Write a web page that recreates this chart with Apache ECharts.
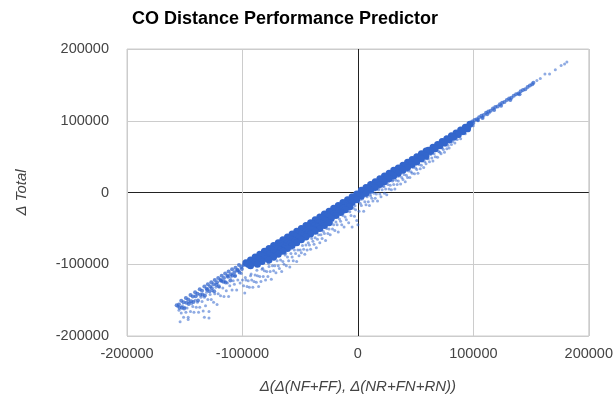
<!DOCTYPE html>
<html>
<head>
<meta charset="utf-8">
<script src="https://cdn.jsdelivr.net/npm/echarts@6/dist/echarts.min.js"></script>
<style>
html,body{margin:0;padding:0;background:#fff}
#chart{width:616px;height:407px}
</style>
</head>
<body>
<div id="chart"></div>
<script>
var titleText = 'CO Distance Performance Predictor';
var xName = 'Δ(Δ(NF+FF), Δ(NR+FN+RN))';
var yName = 'Δ Total';
var axisMin = -200000, axisMax = 200000, axisStep = 100000;

// solid core of the band, x from about -97000 to 97000
var bandPoints = [
    [97000,95000],[93000,91000],[89000,87000],[85000,83000],[81000,79000],[77000,75000],[73000,71000],[69000,67000],
    [65000,63000],[61000,59000],
    [95000,89000],[91000,85000],[87000,81000],[83000,77000],[79000,73000],[75000,69000],[71000,65000],[67000,61000],
    [63000,57000],
    [59000,58000],[55000,54000],[51000,50000],[47000,46000],[43000,42000],[39000,38000],[35000,34000],[31000,31000],
    [27000,27000],[23000,23000],[19000,19000],[15000,15000],[11000,11000],[7000,7000],[3000,3000],
    [57000,53000],[53000,49000],[49000,45000],[45000,41000],[41000,37000],[37000,33000],[33000,29000],[29000,25000],
    [25000,21000],[21000,17000],[17000,13000],[13000,9000],[9000,5000],[5000,1000],[1000,-3000],
    [59000,51000],[55000,47000],[51000,43000],[47000,39000],[43000,35000],[39000,31000],[35000,27000],[31000,23000],
    [27000,19000],[23000,15000],[19000,11000],[15000,7000],[11000,3000],[7000,-1000],[3000,-5000],
    [-1000,-2000],[-5000,-6000],[-9000,-10000],[-13000,-14000],[-17000,-18000],[-21000,-22000],[-25000,-26000],
    [-29000,-30000],[-33000,-34000],[-37000,-38000],[-41000,-42000],[-45000,-46000],[-49000,-50000],[-53000,-54000],
    [-57000,-58000],[-61000,-62000],[-65000,-66000],[-69000,-70000],[-73000,-74000],[-77000,-78000],[-81000,-82000],
    [-85000,-86000],[-89000,-90000],[-93000,-94000],[-97000,-98000],
    [-3000,-8000],[-7000,-12000],[-11000,-16000],[-15000,-20000],[-19000,-24000],[-23000,-28000],[-27000,-32000],
    [-31000,-36000],[-35000,-40000],[-39000,-44000],[-43000,-48000],[-47000,-52000],[-51000,-56000],[-55000,-60000],
    [-59000,-64000],[-63000,-68000],[-67000,-72000],[-71000,-76000],[-75000,-80000],[-79000,-84000],[-83000,-88000],
    [-87000,-92000],[-91000,-96000],[-95000,-100000],
    [-1000,-10000],[-5000,-14000],[-9000,-18000],[-13000,-22000],[-17000,-26000],[-21000,-30000],[-25000,-34000],
    [-29000,-38000],[-33000,-42000],[-37000,-46000],[-41000,-50000],[-45000,-54000],[-49000,-58000],[-53000,-62000],
    [-57000,-66000],[-61000,-70000],[-65000,-74000],[-69000,-78000],[-73000,-82000],[-77000,-86000],[-81000,-90000],
    [-85000,-94000],[-89000,-98000],[-93000,-102000],
    [-7000,-20000],[-11000,-24000],[-15000,-28000],[-19000,-32000],[-23000,-36000],[-27000,-40000],[-31000,-44000],
    [-35000,-48000],[-39000,-52000],[-43000,-56000],[-47000,-60000],[-51000,-64000],[-55000,-68000],[-59000,-72000],
    [-63000,-76000],[-67000,-80000],[-71000,-84000],[-75000,-88000],[-79000,-92000],[-83000,-96000],[-87000,-100000],
    [-25000,-42000],[-29000,-46000],[-33000,-50000],[-37000,-54000],[-41000,-58000],[-45000,-62000],[-49000,-66000],
    [-53000,-70000],[-57000,-74000],[-61000,-78000],[-65000,-82000],[-69000,-86000],[-73000,-90000],[-77000,-94000]
];

// thinner parts of the band: the upper tail and the lower-left end
var edgePoints = [
    [99000,99000],[101000,101000],[103000,102000],[105000,105000],[107000,107000],[109000,108000],[111000,111000],
    [113000,113000],[115000,114000],[117000,117000],[119000,119000],[121000,120000],[123000,123000],[125000,125000],
    [127000,126000],[129000,129000],[131000,131000],[133000,132000],[135000,135000],[137000,137000],[139000,138000],
    [141000,141000],[143000,143000],[145000,144000],[147000,147000],[149000,149000],[151000,151000],[152000,153000],
    [100000,97000],[104000,101000],[108000,104000],[112000,109000],[118000,115000],[124000,121000],[132000,129000],
    [140000,137000],
    [-99000,-101000],[-101000,-104000],[-103000,-101000],[-104000,-108000],[-106000,-105000],[-107000,-111000],
    [-109000,-107000],[-110000,-114000],[-112000,-110000],[-113000,-116000],[-115000,-113000],[-116000,-119000],
    [-118000,-116000],[-119000,-122000],[-121000,-119000],[-122000,-125000],[-124000,-122000],[-125000,-128000],
    [-127000,-125000],[-128000,-131000],[-130000,-128000],[-131000,-134000],[-133000,-131000],[-135000,-137000],
    [-137000,-135000],[-139000,-141000],[-141000,-139000],[-143000,-145000],[-145000,-143000],[-147000,-149000],
    [-149000,-147000],[-151000,-153000],[-153000,-151000],[-155000,-156000],[-157000,-157000],
    [-100500,-106500],[-102500,-111500],[-104500,-108500],[-106500,-116500],[-108500,-115500],[-110500,-122500],
    [-112500,-117500],[-114500,-125500],[-116500,-124500],[-118500,-122500],[-120500,-130500],[-122500,-128500],
    [-124500,-137500],[-126500,-133500],[-128500,-137500],[-130500,-135500],[-132500,-143500],[-134500,-142500],
    [-136500,-142500],[-138500,-150500],[-140500,-144500],[-142500,-152500],[-144500,-151500],[-146500,-155500],
    [-148500,-153500],[-150500,-161500],[-152500,-160500],[-154500,-160500]
];

// loose points scattered below the band
var spreadPoints = [
    [155000,156000],[158000,159000],[162000,165000],[166000,165000],[171000,171000],[176000,177000],[179000,179000],
    [181000,182000],
    [61000,47000],[62000,43000],[63000,53000],[64000,48000],[65000,44000],[66000,54000],[67000,50000],[68000,59000],
    [69000,49000],[70000,57000],[71000,56000],[72000,54000],[73000,62000],[74000,60000],[75000,56000],[76000,66000],
    [77000,61000],[78000,66000],[79000,62000],[80000,71000],[81000,67000],[82000,71000],[84000,69000],[85000,77000],
    [86000,74000],[88000,78000],[89000,75000],[91000,82000],[93000,82000],[95000,87000],[96000,86000],[100000,93000],
    [104000,100000],[108000,105000],[114000,111000],
    [1000,-26000],[2000,-15000],[3000,-18000],[4000,-9000],[5000,-26000],[6000,-13000],[7000,-17000],[8000,-6000],
    [9000,-13000],[10000,-18000],[11000,-5000],[12000,-8000],[13000,-12000],[14000,-1000],[15000,-8000],[16000,-2000],
    [17000,-12000],[18000,4000],[19000,-2000],[20000,-6000],[21000,4000],[22000,9000],[23000,-1000],[24000,5000],
    [25000,-3000],[26000,11000],[27000,5000],[28000,10000],[29000,4000],[30000,16000],[31000,11000],[32000,5000],
    [33000,17000],[34000,11000],[35000,16000],[36000,23000],[37000,12000],[38000,21000],[39000,18000],[40000,25000],
    [41000,15000],[42000,24000],[43000,21000],[44000,30000],[45000,21000],[46000,29000],[47000,27000],[48000,35000],
    [49000,26000],[50000,34000],[51000,32000],[52000,27000],[53000,39000],[54000,33000],[55000,38000],[56000,44000],
    [57000,35000],[58000,43000],[59000,40000],[60000,47000],
    [2500,-9500],[6500,-4500],[10500,-2500],[14500,3500],[18500,6500],[22500,8500],[26500,15500],[30500,17500],
    [34500,22500],[38500,28500],[42500,30500],[46500,35500],[50500,39500],[54500,44500],[58500,47500],
    [0,-45000],[-1000,-39000],[-2000,-24000],[-3000,-33000],[-4000,-22000],[-5000,-48000],[-6000,-32000],
    [-7000,-27000],[-8000,-42000],[-9000,-26000],[-10000,-38000],[-11000,-34000],[-12000,-48000],[-13000,-32000],
    [-14000,-45000],[-15000,-40000],[-16000,-37000],[-17000,-55000],[-18000,-45000],[-19000,-41000],[-20000,-53000],
    [-21000,-45000],[-22000,-51000],[-23000,-43000],[-24000,-59000],[-25000,-51000],[-26000,-57000],[-27000,-50000],
    [-28000,-67000],[-29000,-57000],[-30000,-54000],[-31000,-64000],[-32000,-59000],[-33000,-70000],[-34000,-59000],
    [-35000,-65000],[-36000,-77000],[-37000,-63000],[-38000,-72000],[-39000,-68000],[-40000,-64000],[-41000,-79000],
    [-42000,-73000],[-43000,-70000],[-44000,-80000],[-45000,-73000],[-46000,-86000],[-47000,-79000],[-48000,-74000],
    [-49000,-84000],[-50000,-80000],
    [-2500,-18500],[-7500,-22500],[-12500,-28500],[-17500,-33500],[-22500,-40500],[-27500,-44500],[-32500,-50500],
    [-37500,-55500],[-42500,-61500],[-47500,-66500],
    [-51000,-88000],[-52000,-80000],[-53000,-96000],[-54000,-85000],[-55000,-80000],[-56000,-95000],[-57000,-90000],
    [-58000,-85000],[-59000,-104000],[-60000,-95000],[-61000,-90000],[-62000,-102000],[-63000,-87000],
    [-64000,-100000],[-65000,-96000],[-66000,-110000],[-67000,-94000],[-68000,-106000],[-69000,-102000],
    [-70000,-95000],[-71000,-112000],[-72000,-102000],[-73000,-109000],[-74000,-102000],[-75000,-121000],
    [-76000,-110000],[-77000,-103000],[-78000,-117000],[-79000,-110000],[-80000,-122000],[-81000,-109000],
    [-82000,-117000],[-83000,-107000],[-84000,-124000],[-85000,-117000],[-86000,-131000],[-87000,-116000],
    [-88000,-125000],[-89000,-115000],[-90000,-124000],[-91000,-132000],[-92000,-122000],[-93000,-116000],
    [-94000,-132000],[-95000,-123000],[-96000,-131000],[-97000,-122000],[-98000,-140000],[-99000,-130000],
    [-100000,-122000],
    [-52500,-72500],[-57500,-78500],[-62500,-84500],[-67500,-86500],[-72500,-93500],[-77500,-98500],
    [-82500,-105500],[-87500,-108500],[-92500,-113500],[-97500,-118500],
    [-101000,-113000],[-102000,-126000],[-103000,-110000],[-104000,-122000],[-105000,-136000],[-106000,-116000],
    [-107000,-128000],[-108000,-123000],[-109000,-136000],[-110000,-118000],[-111000,-130000],[-112000,-145000],
    [-113000,-126000],[-114000,-137000],[-115000,-124000],[-116000,-145000],[-117000,-133000],[-118000,-124000],
    [-119000,-144000],[-120000,-132000],[-121000,-141000],[-122000,-156000],[-123000,-132000],[-124000,-141000],
    [-125000,-153000],[-126000,-137000],[-127000,-149000],[-128000,-142000],[-129000,-166000],[-130000,-149000],
    [-131000,-139000],[-132000,-158000],[-133000,-146000],[-134000,-165000],[-135000,-152000],[-136000,-146000],
    [-137000,-160000],[-138000,-167000],[-139000,-153000],[-140000,-160000],[-141000,-150000],[-142000,-167000],
    [-143000,-159000],[-144000,-155000],[-145000,-166000],[-146000,-153000],[-147000,-174000],[-148000,-161000],
    [-149000,-167000],[-150000,-160000],[-151000,-174000],[-152000,-158000],[-153000,-168000],[-154000,-180000],
    [-155000,-164000],[-156000,-159000],[-133000,-174000],[-129000,-175000],[-147000,-177000]
];

var chart = echarts.init(document.getElementById('chart'), null, {renderer: 'canvas'});
var fontFam = 'Liberation Sans, Arial, sans-serif';
var gridColors = ['#cccccc', '#cccccc', '#222222', '#cccccc', '#cccccc'];  // zero line is dark
var dotColor = '#3366cc';

var option = {
    animation: false,
    backgroundColor: '#fff',
    title: {
        text: titleText,
        left: 127,
        top: 5,
        textStyle: {fontSize: 18, fontWeight: 'bold', color: '#000', fontFamily: fontFam}
    },
    grid: {left: 127, right: 23, top: 49, bottom: 71, show: true, borderColor: '#cccccc', borderWidth: 1},
    xAxis: {
        type: 'value', min: axisMin, max: axisMax, interval: axisStep,
        name: xName, nameLocation: 'middle', nameGap: 43,
        nameTextStyle: {fontSize: 15, fontStyle: 'italic', color: '#444', fontFamily: fontFam},
        axisLine: {show: false}, axisTick: {show: false},
        axisLabel: {color: '#444', fontSize: 14.5, margin: 10, fontFamily: fontFam,
            formatter: function (v) { return String(v); }},
        splitLine: {show: true, lineStyle: {color: gridColors, width: 1}}
    },
    yAxis: {
        type: 'value', min: axisMin, max: axisMax, interval: axisStep,
        name: yName, nameLocation: 'middle', nameGap: 98,
        nameTextStyle: {fontSize: 15, fontStyle: 'italic', color: '#444', fontFamily: fontFam},
        axisLine: {show: false}, axisTick: {show: false},
        axisLabel: {color: '#444', fontSize: 14.5, margin: 18, fontFamily: fontFam,
            formatter: function (v) { return String(v); }},
        splitLine: {show: true, lineStyle: {color: gridColors, width: 1}}
    },
    series: [
        {type: 'scatter', data: spreadPoints, symbolSize: 3, silent: true,
         itemStyle: {color: dotColor, opacity: 0.55}},
        {type: 'scatter', data: edgePoints, symbolSize: 4, silent: true,
         itemStyle: {color: dotColor, opacity: 0.75}},
        {type: 'scatter', data: bandPoints, symbolSize: 7, silent: true,
         itemStyle: {color: dotColor, opacity: 1}}
    ]
};
chart.setOption(option);
</script>
</body>
</html>
